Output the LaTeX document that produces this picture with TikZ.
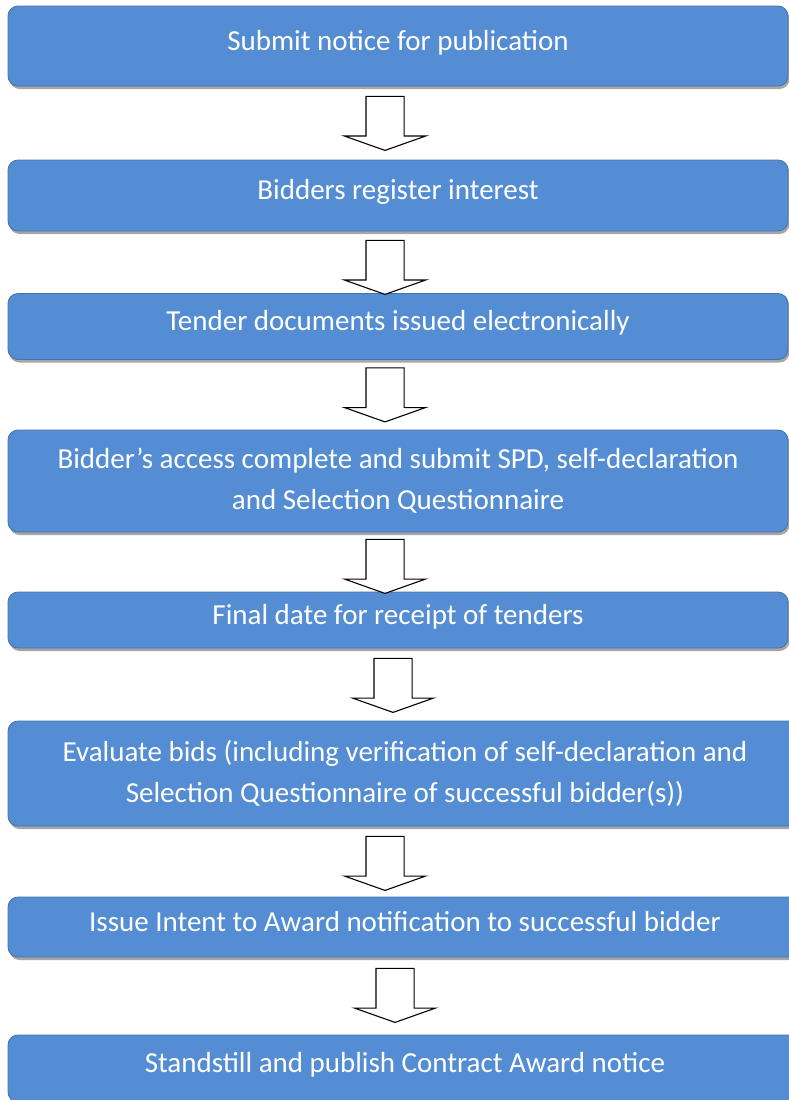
\documentclass[tikz,border=0pt]{standalone}
\usepackage{fontspec}
\setmainfont{Carlito}
\usepackage{xcolor}
\usetikzlibrary{shapes.arrows, shadows, positioning}
\definecolor{boxblue}{RGB}{84,141,211}
\definecolor{boxedge}{RGB}{68,114,172}
\tikzstyle{stepbox} = [rectangle, rounded corners=10pt, minimum width=780pt, text centered, align=center, inner sep=0pt, draw=boxedge, line width=0.8pt, fill=boxblue, text=white, font=\fontsize{29pt}{41pt}\selectfont, drop shadow={shadow xshift=1.5pt, shadow yshift=-3pt, fill=black!35, opacity=1}]
\tikzstyle{widebox} = [stepbox, minimum width=794pt]
\tikzstyle{oneline} = [text depth=12pt]
\tikzstyle{downarrow} = [single arrow, shape border rotate=270, draw=black, line width=1.1pt, fill=white, inner sep=18.5pt, minimum height=54pt, single arrow head extend=21.5pt, single arrow tip angle=141, outer sep=0pt]

\begin{document}
\begin{tikzpicture}
				\useasboundingbox (0pt,0pt) rectangle (789pt,-1100pt);
				
				% Steps of the procedure
				\node (submit) [stepbox, oneline, minimum height=80pt] at (398pt,-46pt) {Submit notice for publication};
				\node (register) [stepbox, oneline, minimum height=71pt] at (398pt,-195.5pt) {Bidders register interest};
				\node (issued) [stepbox, oneline, minimum height=66pt] at (398pt,-326.5pt) {Tender documents issued electronically};
				\node (spd) [stepbox, minimum height=102pt] at (398pt,-481pt) {Bidder’s access complete and submit SPD, self-declaration\\and Selection Questionnaire};
				\node (final) [stepbox, oneline, minimum height=56pt] at (398pt,-620pt) {Final date for receipt of tenders};
				\node (evaluate) [widebox, minimum height=105pt] at (405pt,-773.5pt) {Evaluate bids (including verification of self-declaration and\\Selection Questionnaire of successful bidder(s))};
				\node (intent) [widebox, oneline, minimum height=60pt] at (405pt,-927pt) {Issue Intent to Award notification to successful bidder};
				\node (award) [widebox, oneline, minimum height=67pt] at (405pt,-1068.5pt) {Standstill and publish Contract Award notice};
				
				% Block arrows between the steps
				\node (arr1) [downarrow, below=10pt of submit, xshift=-13pt] {};
				\node (arr2) [downarrow, below=9pt of register, xshift=-13pt] {};
				\node (arr3) [downarrow, below=8pt of issued, xshift=-13pt] {};
				\node (arr4) [downarrow, below=7pt of spd, xshift=-13pt] {};
				\node (arr5) [downarrow, below=10pt of final, xshift=-5pt] {};
				\node (arr6) [downarrow, below=10pt of evaluate, xshift=-20pt] {};
				\node (arr7) [downarrow, below=11pt of intent, xshift=-10pt] {};
				
\end{tikzpicture}
\end{document}
